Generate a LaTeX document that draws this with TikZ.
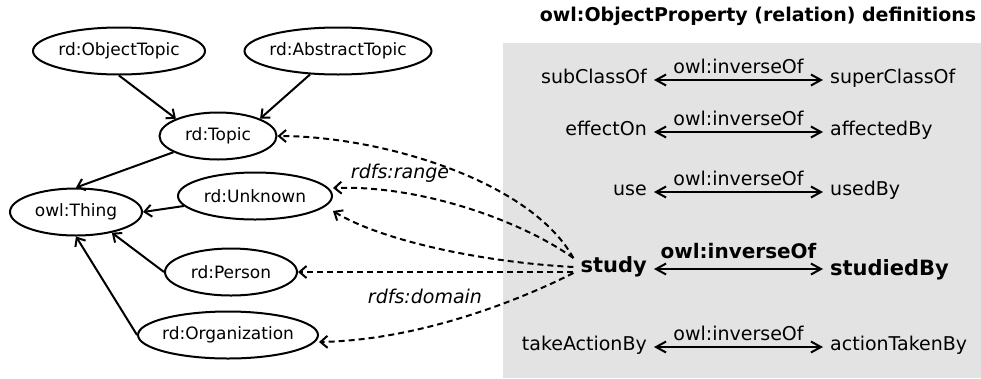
\documentclass[tikz,border=0pt]{standalone}
\usepackage{fontspec}
\setmainfont{DejaVu Sans}
\usetikzlibrary{shapes.geometric,arrows.meta}
\definecolor{boxgray}{RGB}{227,227,227}

\begin{document}
\begin{tikzpicture}[x=1pt, y=-1pt,
 cls/.style={shape=ellipse, draw, line width=2pt, inner xsep=-20pt, inner ysep=0pt,
   minimum height=47pt, minimum width=#1, font=\fontsize{17}{20}\selectfont},
 sub/.style={-{Straight Barb[length=7pt,width=12pt]}, line width=2pt},
 link/.style={-{Straight Barb[length=7pt,width=12pt]}, line width=2pt, dash pattern=on 6pt off 4pt},
 prop/.style={inner xsep=7pt, inner ysep=0pt, text height=0.95em, text depth=0.2em, font=\fontsize{19}{22}\selectfont},
 inv/.style={{Straight Barb[length=10pt,width=11pt]}-{Straight Barb[length=10pt,width=11pt]}, line width=2pt},
 lbl/.style={above=2pt, font=\fontsize{19}{22}\selectfont},
 note/.style={font=\itshape\fontsize{19}{22}\selectfont},
]
\useasboundingbox (0,0) rectangle (981,378);

%property panel
\fill[boxgray] (503,43) rectangle (981,378);
\node[font=\bfseries\fontsize{19}{22}\selectfont] (title) at (758,16) {owl:ObjectProperty (relation) definitions};

%classes
\node[cls=172pt] (objtopic) at (119,51) {rd:ObjectTopic};
\node[cls=187pt] (abstopic) at (338,51) {rd:AbstractTopic};
\node[cls=117pt] (topic) at (218,136) {rd:Topic};
\node[cls=132pt] (thing) at (76,212) {owl:Thing};
\node[cls=154pt] (unknown) at (255,196) {rd:Unknown};
\node[cls=132pt] (person) at (231,272) {rd:Person};
\node[cls=180pt] (org) at (228,335) {rd:Organization};

\draw[sub] (objtopic.south) -- (topic.north west);
\draw[sub] (abstopic.220) -- (topic.north east);
\draw[sub] (topic.200) -- (thing.north);
\draw[sub] (unknown.188) -- (thing.east);
\draw[sub] (person.west) -- (thing.-30);
\draw[sub] (org.west) -- (thing.south);

%inverse pairs
\node[prop, anchor=east] (subcls) at (654,80) {subClassOf};
\node[prop, anchor=west] (supercls) at (823,80) {superClassOf};
\draw[inv] (subcls) -- node[lbl] {owl:inverseOf} (supercls);

\node[prop, anchor=east] (effect) at (654,132) {effectOn};
\node[prop, anchor=west] (affected) at (823,132) {affectedBy};
\draw[inv] (effect) -- node[lbl] {owl:inverseOf} (affected);

\node[prop, anchor=east] (use) at (654,192) {use};
\node[prop, anchor=west] (usedby) at (823,192) {usedBy};
\draw[inv] (use) -- node[lbl] {owl:inverseOf} (usedby);

\node[prop, anchor=east, font=\bfseries\fontsize{21}{25}\selectfont] (study) at (654,269) {study};
\node[prop, anchor=west, font=\bfseries\fontsize{21}{25}\selectfont] (studied) at (823,272) {studiedBy};
\draw[inv] (study) -- node[lbl, above=4pt, font=\bfseries\fontsize{20}{24}\selectfont] {owl:inverseOf} (study -| studied.west);

\node[prop, anchor=east] (take) at (654,347) {takeActionBy};
\node[prop, anchor=west] (taken) at (823,347) {actionTakenBy};
\draw[inv] (take) -- node[lbl] {owl:inverseOf} (taken);

%range and domain of study
\draw[link] ([yshift=11pt]study.west) .. controls (530,180) and (380,136) .. (topic.east);
\draw[link] ([yshift=11pt]study.west) .. controls (520,220) and (420,185) .. ([yshift=8pt]unknown.east);
\draw[link] ([yshift=2pt]study.west) .. controls (480,262) and (380,240) .. ([yshift=-15pt]unknown.east);
\draw[link] ([yshift=-3pt]study.west) -- (person);
\draw[link] ([yshift=-4pt]study.west) .. controls (520,300) and (420,340) .. ([yshift=-7pt]org.east);
\node[note] (range) at (400,173) {rdfs:range};
\node[note] (domain) at (425,296) {rdfs:domain};

\end{tikzpicture}
\end{document}
